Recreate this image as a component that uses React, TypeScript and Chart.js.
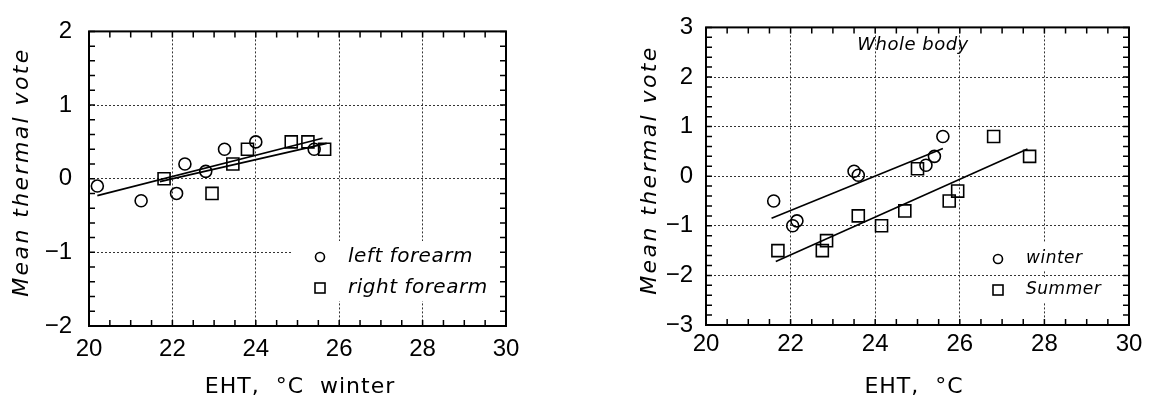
import React, { useEffect, useRef } from "react";
import { Chart, registerables } from "chart.js";

Chart.register(...registerables);

// ---------- Left panel (winter, forearms) ----------
const leftForearmX = [20.2, 21.25, 22.1, 22.3, 22.8, 23.25, 24.0, 25.4];
const leftForearmY = [-0.1, -0.3, -0.2, 0.2, 0.1, 0.4, 0.5, 0.4];
const rightForearmX = [21.8, 22.95, 23.45, 23.8, 24.85, 25.25, 25.65];
const rightForearmY = [0.0, -0.2, 0.2, 0.4, 0.5, 0.5, 0.4];
const leftFitX = [20.2, 25.6];
const leftFitY = [-0.23, 0.55];
const rightFitX = [21.7, 25.7];
const rightFitY = [-0.04, 0.48];

// ---------- Right panel (whole body) ----------
const winterX = [21.6, 22.05, 22.15, 23.5, 23.6, 25.2, 25.4, 25.6];
const winterY = [-0.5, -1.0, -0.9, 0.1, 0.02, 0.22, 0.4, 0.8];
const summerX = [21.7, 22.75, 22.85, 23.6, 24.15, 24.7, 25.0, 25.75, 25.95, 26.8, 27.65];
const summerY = [-1.5, -1.5, -1.3, -0.8, -1.0, -0.7, 0.15, -0.5, -0.3, 0.8, 0.4];
const winterFitX = [21.55, 25.6];
const winterFitY = [-0.85, 0.56];
const summerFitX = [21.65, 27.6];
const summerFitY = [-1.72, 0.55];

// ---------- Axis / text ----------
const xRange = [20, 30];
const leftYRange = [-2, 2];
const rightYRange = [-3, 3];
const yTitle = "Mean thermal vote";
const leftXTitle = "EHT,  °C  winter";
const rightXTitle = "EHT,  °C";
const leftLegend = ["left forearm", "right forearm"];
const rightLegend = ["winter", "Summer"];
const rightNote = "Whole body";

const TICK_FONT = "'Liberation Sans', Arial, sans-serif";
const TEXT_FONT = "'DejaVu Sans', sans-serif";

const pts = (xs: number[], ys: number[]) => xs.map((x, i) => ({ x, y: ys[i] }));

const circleSet = (xs: number[], ys: number[]) => ({
  data: pts(xs, ys),
  pointStyle: "circle",
  pointRadius: 6,
  pointBorderWidth: 1.6,
  pointBorderColor: "#000",
  pointBackgroundColor: "rgba(0,0,0,0)",
  showLine: false,
});
const squareSet = (xs: number[], ys: number[]) => ({
  data: pts(xs, ys),
  pointStyle: "rect",
  pointRadius: 8.5,
  pointBorderWidth: 1.6,
  pointBorderColor: "#000",
  pointBackgroundColor: "rgba(0,0,0,0)",
  showLine: false,
});
const fitSet = (xs: number[], ys: number[]) => ({
  data: pts(xs, ys),
  showLine: true,
  borderColor: "#000",
  borderWidth: 1.6,
  pointRadius: 0,
  fill: false,
});

type Spec = {
  left: number;
  width: number;
  area: { left: number; top: number; right: number; bottom: number };
  yRange: number[];
  xTickPad: number;
  yTickPad: number;
  datasets: any[];
  yTitlePos: [number, number];
  xTitle: string;
  xTitlePos: [number, number];
  legendTexts: string[];
  legendSymX: number;
  legendTextX: number;
  legendY: [number, number];
  legendFont: number;
  legendSym: [number, number];
  legendBg: [number, number, number, number][];
  note?: { text: string; x: number; y: number };
};

const H = 401;

function makePlugin(spec: Spec) {
  return {
    id: "decor",
    beforeDatasetsDraw(chart: any) {
      const ctx = chart.ctx;
      ctx.save();
      ctx.fillStyle = "#fff";
      for (const [x, y, w, h] of spec.legendBg) ctx.fillRect(x, y, w, h);
      ctx.restore();
    },
    afterDraw(chart: any) {
      const ctx = chart.ctx as CanvasRenderingContext2D;
      const { left, top, right, bottom } = chart.chartArea;
      const xs = chart.scales.x;
      const ys = chart.scales.y;
      ctx.save();
      // frame
      ctx.strokeStyle = "#000";
      ctx.lineWidth = 2;
      ctx.strokeRect(left, top, right - left, bottom - top);
      // minor ticks (inward, all sides)
      ctx.lineWidth = 1.5;
      ctx.beginPath();
      for (let v = xRange[0]; v <= xRange[1] + 1e-9; v += 0.5) {
        const px = xs.getPixelForValue(v);
        ctx.moveTo(px, bottom);
        ctx.lineTo(px, bottom - 6);
        ctx.moveTo(px, top);
        ctx.lineTo(px, top + 6);
      }
      for (let i = 0; i <= (spec.yRange[1] - spec.yRange[0]) * 5; i++) {
        const v = spec.yRange[0] + i * 0.2;
        const py = ys.getPixelForValue(v);
        ctx.moveTo(left, py);
        ctx.lineTo(left + 6, py);
        ctx.moveTo(right, py);
        ctx.lineTo(right - 6, py);
      }
      ctx.stroke();

      // y title
      ctx.fillStyle = "#000";
      ctx.textAlign = "center";
      ctx.textBaseline = "middle";
      ctx.save();
      ctx.translate(spec.yTitlePos[0], spec.yTitlePos[1]);
      ctx.rotate(-Math.PI / 2);
      ctx.font = `italic 22px ${TEXT_FONT}`;
      (ctx as any).letterSpacing = "2.4px";
      ctx.fillText(yTitle, 0, 0);
      ctx.restore();

      // x title
      ctx.font = `22px ${TEXT_FONT}`;
      (ctx as any).letterSpacing = "1px";
      ctx.fillText(spec.xTitle, spec.xTitlePos[0], spec.xTitlePos[1]);
      (ctx as any).letterSpacing = "0px";

      // note
      if (spec.note) {
        ctx.font = `italic 18px ${TEXT_FONT}`;
        (ctx as any).letterSpacing = "0.5px";
        ctx.fillText(spec.note.text, spec.note.x, spec.note.y);
        (ctx as any).letterSpacing = "0px";
      }

      // legend
      ctx.lineWidth = 1.6;
      ctx.strokeStyle = "#000";
      const [cr, sh] = spec.legendSym;
      ctx.beginPath();
      ctx.arc(spec.legendSymX, spec.legendY[0], cr, 0, Math.PI * 2);
      ctx.stroke();
      ctx.strokeRect(spec.legendSymX - sh, spec.legendY[1] - sh, 2 * sh, 2 * sh);
      ctx.font = `italic ${spec.legendFont}px ${TEXT_FONT}`;
      ctx.textAlign = "left";
      (ctx as any).letterSpacing = "0.5px";
      ctx.fillText(spec.legendTexts[0], spec.legendTextX, spec.legendY[0]);
      ctx.fillText(spec.legendTexts[1], spec.legendTextX, spec.legendY[1]);
      (ctx as any).letterSpacing = "0px";
      ctx.restore();
    },
  };
}

function Panel({ spec }: { spec: Spec }) {
  const ref = useRef<HTMLCanvasElement | null>(null);
  useEffect(() => {
    if (!ref.current) return;
    const a = spec.area;
    const minus = (v: any) => (Number(v) < 0 ? "\u2212" + Math.abs(Number(v)) : String(v));
    const chart = new Chart(ref.current, {
      type: "scatter",
      data: { datasets: spec.datasets as any },
      options: {
        responsive: false,
        animation: false,
        devicePixelRatio: 1,
        layout: { padding: { left: 0, top: a.top, right: spec.width - a.right, bottom: 0 } },
        plugins: { legend: { display: false }, tooltip: { enabled: false } },
        scales: {
          x: {
            type: "linear",
            min: xRange[0],
            max: xRange[1],
            ticks: {
              stepSize: 2,
              padding: spec.xTickPad,
              color: "#000",
              maxRotation: 0,
              font: { family: TICK_FONT, size: 24 },
              callback: minus,
            },
            grid: { color: "#333", lineWidth: 1, drawTicks: false },
            border: { display: false, dash: [2, 2] },
            afterFit: (s: any) => {
              s.height = H - a.bottom;
            },
          },
          y: {
            type: "linear",
            min: spec.yRange[0],
            max: spec.yRange[1],
            ticks: {
              stepSize: 1,
              padding: spec.yTickPad,
              color: "#000",
              font: { family: TICK_FONT, size: 24 },
              callback: minus,
            },
            grid: { color: "#333", lineWidth: 1, drawTicks: false },
            border: { display: false, dash: [2, 2] },
            afterFit: (s: any) => {
              s.width = a.left;
            },
          },
        },
      } as any,
      plugins: [makePlugin(spec)],
    });
    return () => chart.destroy();
  }, [spec]);
  return (
    <canvas
      ref={ref}
      width={spec.width}
      height={H}
      style={{ position: "absolute", left: spec.left, top: 0, width: spec.width, height: H }}
    />
  );
}

const leftSpec: Spec = {
  left: 0,
  width: 560,
  area: { left: 89, top: 17, right: 506, bottom: 326 },
  yRange: leftYRange,
  xTickPad: 9,
  yTickPad: 17,
  datasets: [
    circleSet(leftForearmX, leftForearmY),
    squareSet(rightForearmX, rightForearmY),
    fitSet(leftFitX, leftFitY),
    fitSet(rightFitX, rightFitY),
  ],
  yTitlePos: [22, 172],
  xTitle: leftXTitle,
  xTitlePos: [300, 387],
  legendTexts: leftLegend,
  legendSymX: 320,
  legendTextX: 348,
  legendY: [257, 288],
  legendFont: 20,
  legendSym: [4.5, 5],
  legendBg: [[293, 241, 212, 60]],
};

const rightSpec: Spec = {
  left: 560,
  width: 589,
  area: { left: 146, top: 19, right: 569, bottom: 325 },
  yRange: rightYRange,
  xTickPad: 5,
  yTickPad: 13,
  datasets: [
    circleSet(winterX, winterY),
    squareSet(summerX, summerY),
    fitSet(winterFitX, winterFitY),
    fitSet(summerFitX, summerFitY),
  ],
  yTitlePos: [90, 170],
  xTitle: rightXTitle,
  xTitlePos: [354, 387],
  legendTexts: rightLegend,
  legendSymX: 438,
  legendTextX: 466,
  legendY: [259, 290],
  legendFont: 17,
  legendSym: [4.5, 5],
  legendBg: [
    [460, 242, 84, 29],
    [460, 277, 84, 26],
  ],
  note: { text: rightNote, x: 353, y: 45 },
};

export default function App() {
  return (
    <div style={{ position: "fixed", left: 0, top: 0, width: 1149, height: H, background: "#fff" }}>
      <Panel spec={leftSpec} />
      <Panel spec={rightSpec} />
    </div>
  );
}
